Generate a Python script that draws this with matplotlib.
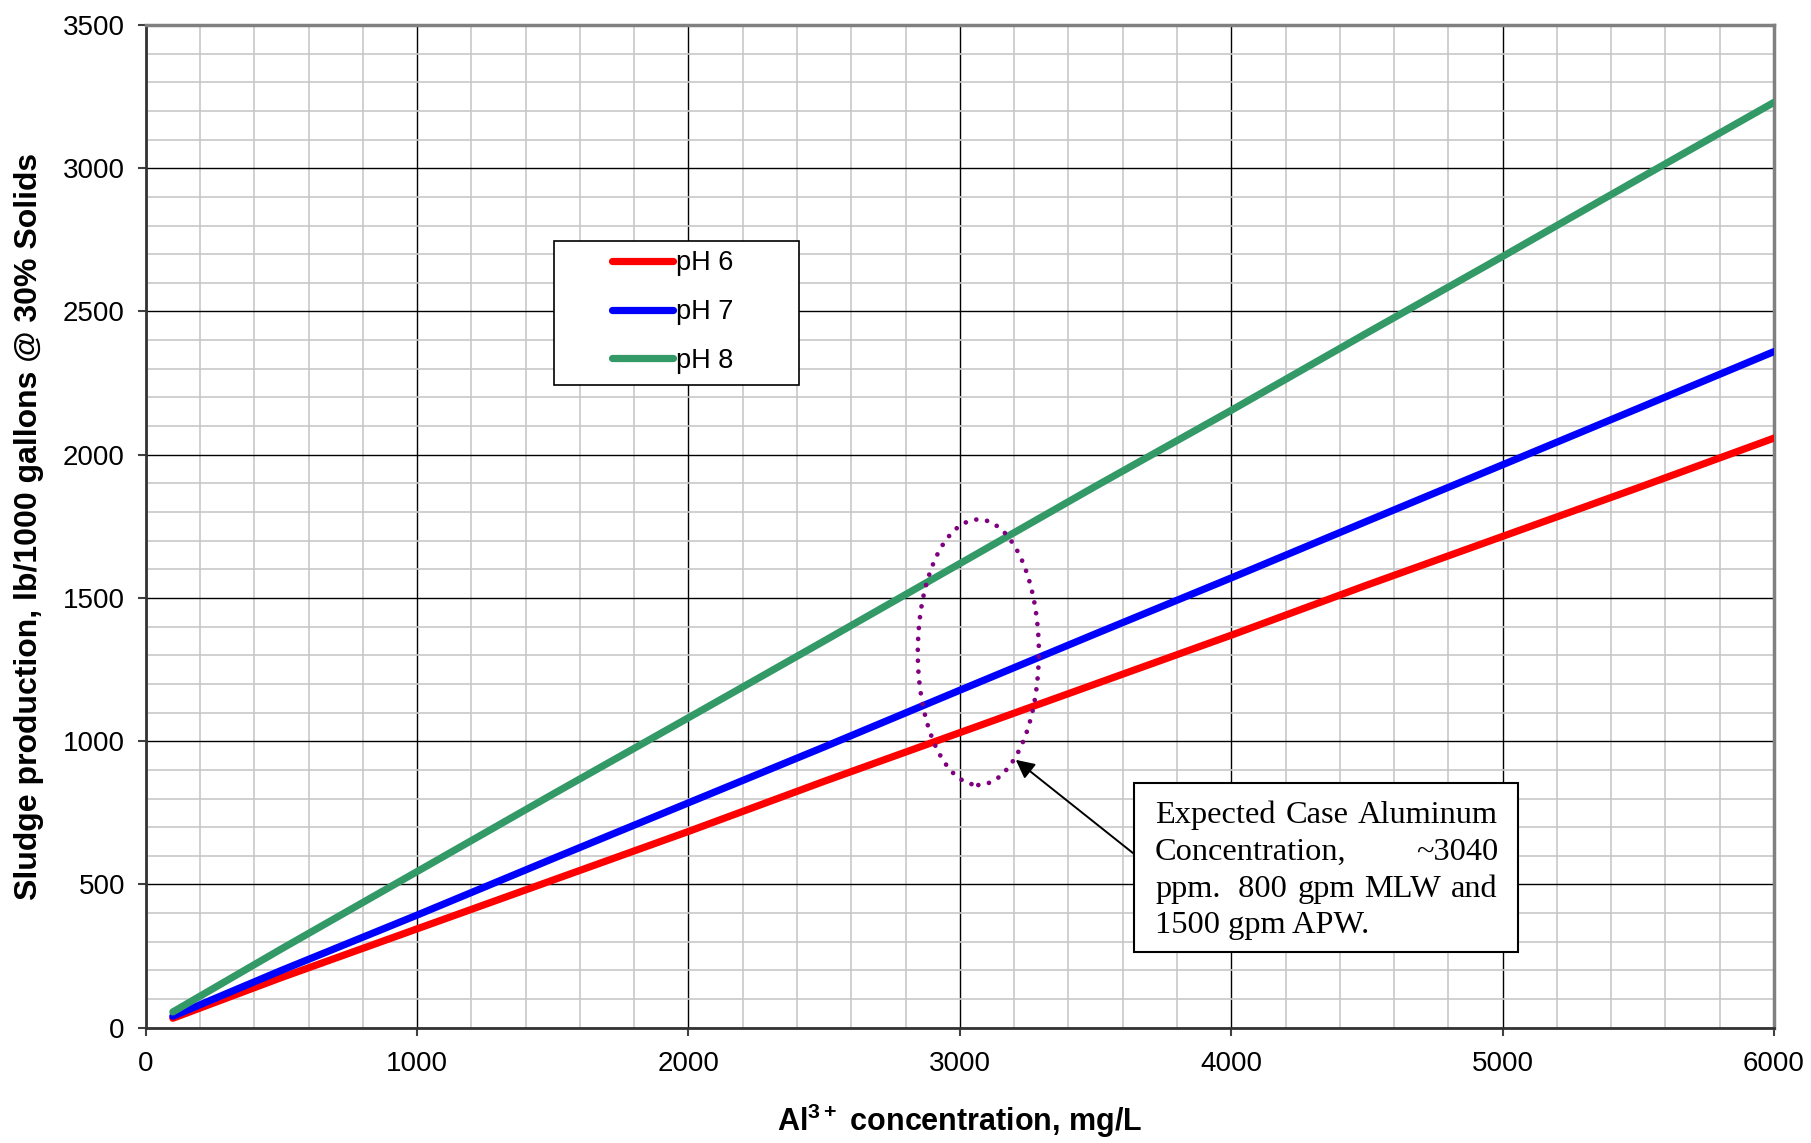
import matplotlib
matplotlib.use("Agg")
import matplotlib.pyplot as plt
from matplotlib.patches import Ellipse, Rectangle
from matplotlib.lines import Line2D
from matplotlib.ticker import MultipleLocator

plt.rcParams['font.family'] = ['Liberation Sans', 'DejaVu Sans']
plt.rcParams['mathtext.fontset'] = 'custom'
plt.rcParams['mathtext.rm'] = 'Liberation Sans'
plt.rcParams['mathtext.bf'] = 'Liberation Sans:bold'

# Aluminium dose (mg/L) and sludge produced (lb/1000 gal at 30% solids)
al_conc = [100, 500, 1000, 1500, 2000, 2500, 3000, 3500, 4000, 4500, 5000, 5500, 6000]
sludge_ph6 = [33, 175, 345, 515, 685, 860, 1030, 1200, 1370, 1545, 1715, 1885, 2058]
sludge_ph7 = [40, 200, 393, 590, 785, 980, 1178, 1375, 1570, 1768, 1965, 2162, 2360]
sludge_ph8 = [55, 275, 545, 815, 1082, 1350, 1620, 1890, 2155, 2425, 2692, 2962, 3230]
series_labels = ['pH 6', 'pH 7', 'pH 8']
series_colors = ['#FF0000', '#0000FF', '#339966']

# expected-case highlight
expected_al = 3068
expected_band = (847, 1774)   # sludge range enclosed by the highlight
arrow_tail = (3644, 605)
arrow_head = (3206, 935)
note_lines = [["Expected", "Case", "Aluminum"],
              ["Concentration,", "~3040"],
              ["ppm.", " 800", "gpm", "MLW", "and"],
              ["1500 gpm APW."]]

W, H = 1811, 1143
fig = plt.figure(figsize=(W / 100, H / 100), dpi=100)
ax = fig.add_axes([145.7 / W, 1 - 1027.7 / H, 1628.3 / W, 1002.7 / H])


def fx(px):
    return px / W


def fy(py):
    return 1 - py / H


ax.set_xlim(0, 6000)
ax.set_ylim(0, 3500)
ax.xaxis.set_major_locator(MultipleLocator(1000))
ax.xaxis.set_minor_locator(MultipleLocator(200))
ax.yaxis.set_major_locator(MultipleLocator(500))
ax.yaxis.set_minor_locator(MultipleLocator(100))

ax.grid(which='minor', color='#C8C8C8', lw=1.2, zorder=0)
ax.grid(which='major', color='#000000', lw=1.0, zorder=0)
ax.set_axisbelow(True)

ax.tick_params(which='minor', length=0)
ax.tick_params(which='major', direction='out', length=6, width=1.5,
               color='#404040', labelsize=20)
ax.tick_params(axis='x', pad=11)
ax.tick_params(axis='y', pad=9)

for side in ['left', 'bottom']:
    ax.spines[side].set_color('#333333')
    ax.spines[side].set_linewidth(2)
for side in ['top', 'right']:
    ax.spines[side].set_color('#808080')
    ax.spines[side].set_linewidth(2.5)

for ys, lab, col in zip([sludge_ph6, sludge_ph7, sludge_ph8], series_labels, series_colors):
    ax.plot(al_conc, ys, color=col, lw=5.2, solid_capstyle='round',
            solid_joinstyle='round', label=lab, zorder=3)

# axis titles
fig.text(fx(960), fy(1131), '$\\mathbf{Al^{3+}}$ concentration, mg/L',
         fontsize=22, fontweight='bold', ha='center', va='baseline')
fig.text(fx(29), fy(526), 'Sludge production, lb/1000 gallons @ 30% Solids',
         rotation=90, fontsize=23, fontweight='bold', ha='center', va='center')

# dotted ellipse around the expected case
ell = Ellipse((expected_al, sum(expected_band) / 2), 446, expected_band[1] - expected_band[0],
              fill=False, edgecolor='#800080', lw=3.4, linestyle=(0, (0.01, 2.3)),
              zorder=4)
ell.set_capstyle('round')
ax.add_patch(ell)

ax.annotate('', xy=arrow_head, xytext=arrow_tail,
            arrowprops=dict(arrowstyle='-|>', color='black', lw=1.4,
                            mutation_scale=28, shrinkA=0, shrinkB=0),
            zorder=5)

# legend box
lx0, lx1, ly0, ly1 = 554, 799, 241, 385
fig.patches.append(Rectangle((fx(lx0), fy(ly1)), fx(lx1) - fx(lx0), fy(ly0) - fy(ly1),
                             transform=fig.transFigure, facecolor='white',
                             edgecolor='black', lw=1.2, zorder=5))
handles = [Line2D([], [], color=c, lw=5.2, solid_capstyle='round') for c in series_colors]
leg = fig.legend(handles, series_labels, loc='center',
                 bbox_to_anchor=(fx((lx0 + lx1) / 2 - 4), fy((ly0 + ly1) / 2 - 1)),
                 frameon=False, fontsize=19.5, handlelength=2.25, handletextpad=0.1,
                 labelspacing=0.84, borderpad=0)
leg.set_zorder(6)

# note box with justified serif text
bx0, bx1, by0, by1 = 1134, 1518, 783, 952
fig.patches.append(Rectangle((fx(bx0), fy(by1)), fx(bx1) - fx(bx0), fy(by0) - fy(by1),
                             transform=fig.transFigure, facecolor='white',
                             edgecolor='black', lw=1.5, zorder=5))
tx0, tx1 = 1155, 1498
baselines = [823, 860, 897, 933]
fig.canvas.draw()
renderer = fig.canvas.get_renderer()
for words, base, justify in zip(note_lines, baselines, [True, True, True, False]):
    texts = [fig.text(0, fy(base), w, family=['Liberation Serif', 'DejaVu Serif'],
                      fontsize=23.3, va='baseline', ha='left', zorder=7) for w in words]
    widths = [t.get_window_extent(renderer).width for t in texts]
    if justify and len(texts) > 1:
        gap = ((tx1 - tx0) - sum(widths)) / (len(texts) - 1)
    else:
        gap = 0
    x = tx0
    for t, w in zip(texts, widths):
        t.set_x(fx(x))
        x += w + gap

fig.savefig('out.png', dpi=100)
